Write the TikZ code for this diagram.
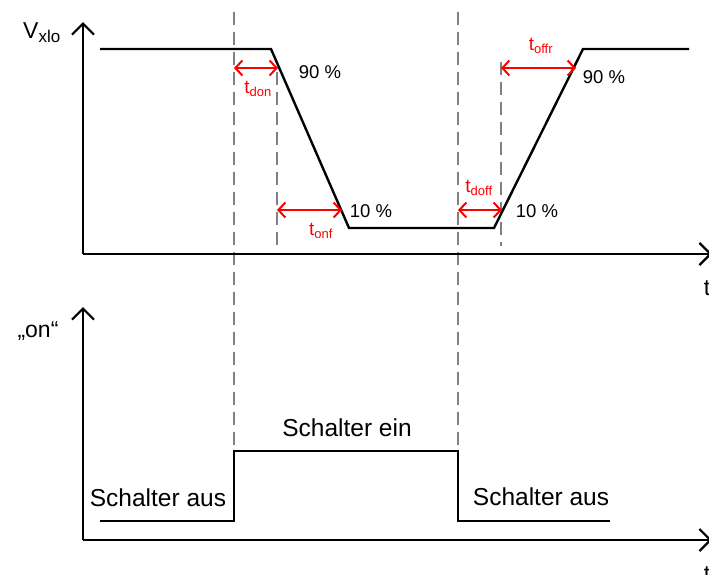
\documentclass[tikz,border=0pt]{standalone}
\usepackage{fontspec}
\setmainfont{Liberation Sans}
\usetikzlibrary{arrows.meta}
\tikzset{
  axisline/.style={line width=2.2pt, black, -{Straight Barb[length=11pt,width=22pt,line width=2.2pt]}},
  sigline/.style={line width=2.4pt, black, line join=miter},
  guideline/.style={line width=2pt, gray, dash pattern=on 13pt off 7pt},
  timearrow/.style={line width=2pt, red, {Straight Barb[length=7pt,width=15pt,line width=2pt]}-{Straight Barb[length=7pt,width=15pt,line width=2pt]}},
  lbl/.style={inner sep=0pt, font=\fontsize{18.5}{20}\selectfont},
  redlbl/.style={inner sep=0pt, red, font=\fontsize{19}{20}\selectfont},
  biglbl/.style={inner sep=0pt, font=\fontsize{24.5}{26}\selectfont},
  axlbl/.style={inner sep=0pt, font=\fontsize{23}{25}\selectfont}
}
\newcommand{\sbx}[1]{\textsubscript{\fontsize{13}{14}\selectfont #1}}
\newcommand{\sbxl}[1]{\textsubscript{\fontsize{17}{18}\selectfont #1}}
\begin{document}
\begin{tikzpicture}[x=1pt,y=-1pt]
\useasboundingbox (0,0) rectangle (709,574);
\clip (0,0) rectangle (709,574);
% coordinates
\coordinate (o1) at (83,254);
\coordinate (y1) at (83,22);
\coordinate (x1) at (712,254);
\coordinate (o2) at (83,540);
\coordinate (y2) at (83,307);
\coordinate (x2) at (712,540);
% guides
\coordinate (g1t) at (234,12); \coordinate (g1b) at (234,522);
\coordinate (g2t) at (458,12); \coordinate (g2b) at (458,522);
\coordinate (g3t) at (277,72); \coordinate (g3b) at (277,246);
\coordinate (g4t) at (501,62); \coordinate (g4b) at (501,246);
\draw[guideline] (g1t) -- (g1b);
\draw[guideline] (g2t) -- (g2b);
\draw[guideline] (g3t) -- (g3b);
\draw[guideline] (g4t) -- (g4b);
% axes
\draw[axisline] (o1) -- (y1);
\draw[axisline] (o1) -- (x1);
\draw[axisline] (o2) -- (y2);
\draw[axisline] (o2) -- (x2);
% top signal
\coordinate (s1) at (100,49);
\coordinate (s2) at (271,49);
\coordinate (s3) at (349,228);
\coordinate (s4) at (494,228);
\coordinate (s5) at (583,49);
\coordinate (s6) at (689,49);
\draw[sigline] (s1) -- (s2) -- (s3) -- (s4) -- (s5) -- (s6);
% bottom signal
\coordinate (b1) at (100,521);
\coordinate (b2) at (234,521);
\coordinate (b3) at (234,451);
\coordinate (b4) at (458,451);
\coordinate (b5) at (458,521);
\coordinate (b6) at (610,521);
\draw[sigline] (b1) -- (b2) -- (b3) -- (b4) -- (b5) -- (b6);
% time arrows
\coordinate (a1l) at (234,68); \coordinate (a1r) at (278,68);
\coordinate (a2l) at (277,210); \coordinate (a2r) at (342,210);
\coordinate (a3l) at (458,210); \coordinate (a3r) at (502,210);
\coordinate (a4l) at (501,68); \coordinate (a4r) at (576,68);
\draw[timearrow] (a1l) -- (a1r);
\draw[timearrow] (a2l) -- (a2r);
\draw[timearrow] (a3l) -- (a3r);
\draw[timearrow] (a4l) -- (a4r);
% labels
\node[axlbl] (vl) at (42,33) {V\sbxl{xlo}};
\node[axlbl] (onl) at (38,331) {„on“};
\node[axlbl] (t1) at (707,288) {t};
\node[axlbl] (t2) at (707,574) {t};
\node[redlbl] (ldon) at (258,89) {t\sbx{don}};
\node[redlbl] (lonf) at (321,231) {t\sbx{onf}};
\node[redlbl] (ldoff) at (479,188) {t\sbx{doff}};
\node[redlbl] (loffr) at (541,46) {t\sbx{offr}};
\node[lbl] (p90a) at (320,72) {90 \%};
\node[lbl] (p10a) at (371,211) {10 \%};
\node[lbl] (p10b) at (537,211) {10 \%};
\node[lbl] (p90b) at (604,77) {90 \%};
\node[biglbl] (sein) at (347,428) {Schalter ein};
\node[biglbl] (saus1) at (158,498) {Schalter aus};
\node[biglbl] (saus2) at (541,497) {Schalter aus};
\end{tikzpicture}
\end{document}
